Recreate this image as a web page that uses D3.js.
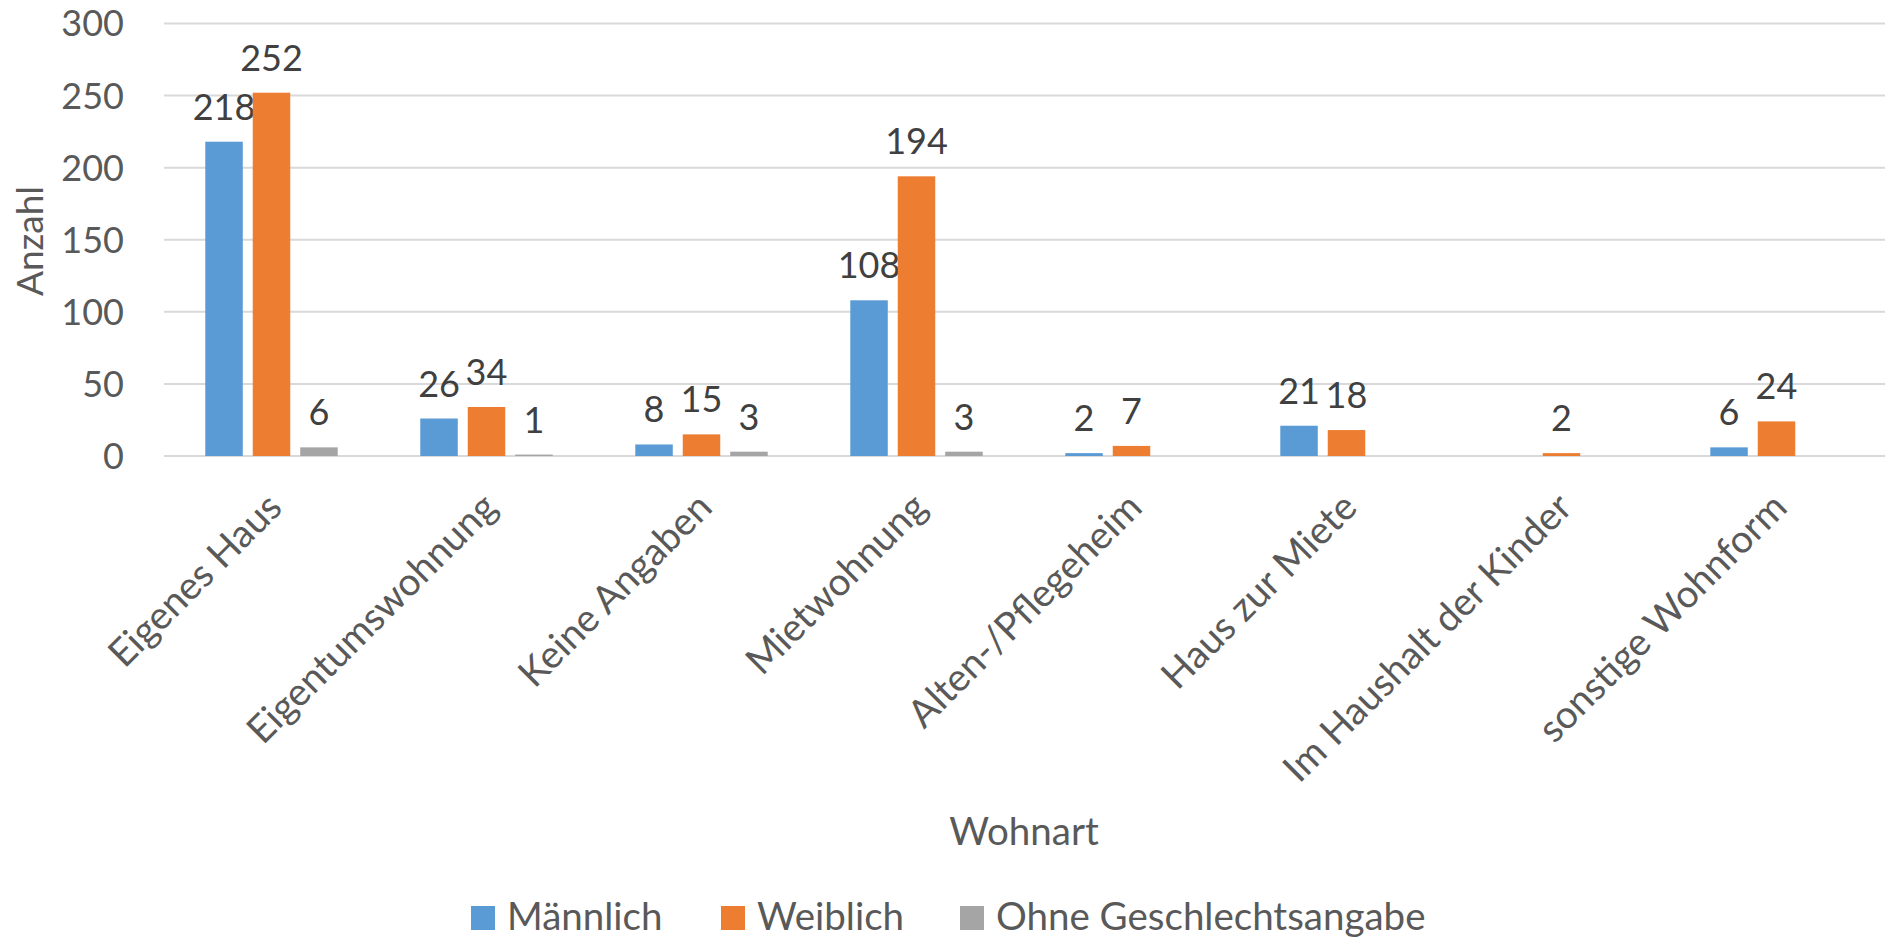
<!DOCTYPE html>
<html>
<head>
<meta charset="utf-8">
<script src="https://cdn.jsdelivr.net/npm/d3@7"></script>
<style>
  body { margin: 0; background: #fff; }
  svg { display: block; }
</style>
</head>
<body>
<div id="chart"></div>
<script>
var categories = ["Eigenes Haus", "Eigentumswohnung", "Keine Angaben", "Mietwohnung",
    "Alten-/Pflegeheim", "Haus zur Miete", "Im Haushalt der Kinder", "sonstige Wohnform"];
var seriesNames = ["Männlich", "Weiblich", "Ohne Geschlechtsangabe"];
var maennlich = [218, 26, 8, 108, 2, 21, null, 6];
var weiblich = [252, 34, 15, 194, 7, 18, 2, 24];
var ohneAngabe = [6, 1, 3, 3, null, null, null, null];
var yTicks = [0, 50, 100, 150, 200, 250, 300];
var colors = ["#5B9BD5", "#ED7D31", "#A5A5A5"];

var width = 1885, height = 939;
var plotLeft = 164, plotRight = 1884, plotTop = 23.5, plotBottom = 456;
var font = "Lato, 'Open Sans', sans-serif";
var numSize = 36, wordSize = 38.5;

var svg = d3.select("#chart")
    .append("svg")
    .attr("width", width)
    .attr("height", height)
    .attr("font-family", font);

var x = d3.scaleBand()
    .domain(categories)
    .range([plotLeft, plotRight])
    .paddingInner(0.384)
    .paddingOuter(0.192);

var xSub = d3.scaleBand()
    .domain(seriesNames)
    .range([0, x.bandwidth()])
    .paddingInner(0.21);

var y = d3.scaleLinear()
    .domain([0, 300])
    .range([plotBottom, plotTop]);

// gridlines
svg.append("g")
    .selectAll("line")
    .data(yTicks)
    .enter()
    .append("line")
    .attr("x1", plotLeft)
    .attr("x2", plotRight + 1)
    .attr("y1", d => y(d))
    .attr("y2", d => y(d))
    .attr("stroke", "#D9D9D9")
    .attr("stroke-width", 2);

// y tick labels
svg.append("g")
    .selectAll("text")
    .data(yTicks)
    .enter()
    .append("text")
    .attr("x", 124)
    .attr("y", d => y(d))
    .attr("dy", "0.36em")
    .attr("text-anchor", "end")
    .attr("font-size", numSize)
    .attr("fill", "#595959")
    .text(d => d);

var allSeries = [maennlich, weiblich, ohneAngabe];
var rows = [];
allSeries.forEach(function(vals, s) {
    vals.forEach(function(v, i) {
        if (v !== null) rows.push({cat: categories[i], series: seriesNames[s], s: s, value: v});
    });
});

var bars = svg.append("g")
    .selectAll("g")
    .data(rows)
    .enter()
    .append("g");

bars.append("rect")
    .attr("x", d => x(d.cat) + xSub(d.series))
    .attr("width", xSub.bandwidth())
    .attr("y", d => y(d.value))
    .attr("height", d => y(0) - y(d.value))
    .attr("fill", d => colors[d.s]);

bars.append("text")
    .attr("x", d => x(d.cat) + xSub(d.series) + xSub.bandwidth() / 2)
    .attr("y", d => y(d.value) - 22)
    .attr("text-anchor", "middle")
    .attr("font-size", numSize)
    .attr("fill", "#404040")
    .text(d => d.value);

// category labels
svg.append("g")
    .selectAll("text")
    .data(categories)
    .enter()
    .append("text")
    .attr("transform", d => "translate(" + (x(d) + x.bandwidth() / 2 - 7) + "," + (plotBottom + 34) + ")rotate(-45)")
    .attr("dy", "0.72em")
    .attr("text-anchor", "end")
    .attr("font-size", wordSize)
    .attr("fill", "#595959")
    .text(d => d);

// axis titles
svg.append("text")
    .attr("x", 1024)
    .attr("y", 845)
    .attr("text-anchor", "middle")
    .attr("font-size", wordSize)
    .attr("fill", "#595959")
    .text("Wohnart");

svg.append("text")
    .attr("transform", "translate(43,241)rotate(-90)")
    .attr("text-anchor", "middle")
    .attr("font-size", 37)
    .attr("fill", "#595959")
    .text("Anzahl");

// legend
var legendX = [471, 721, 960];
var legend = svg.append("g")
    .selectAll("g")
    .data(seriesNames)
    .enter()
    .append("g")
    .attr("transform", (d, i) => "translate(" + legendX[i] + ",930)");
legend.append("rect")
    .attr("y", -24)
    .attr("width", 24)
    .attr("height", 24)
    .attr("fill", (d, i) => colors[i]);
legend.append("text")
    .attr("x", 36)
    .attr("font-size", wordSize)
    .attr("fill", "#595959")
    .text(d => d);
</script>
</body>
</html>
